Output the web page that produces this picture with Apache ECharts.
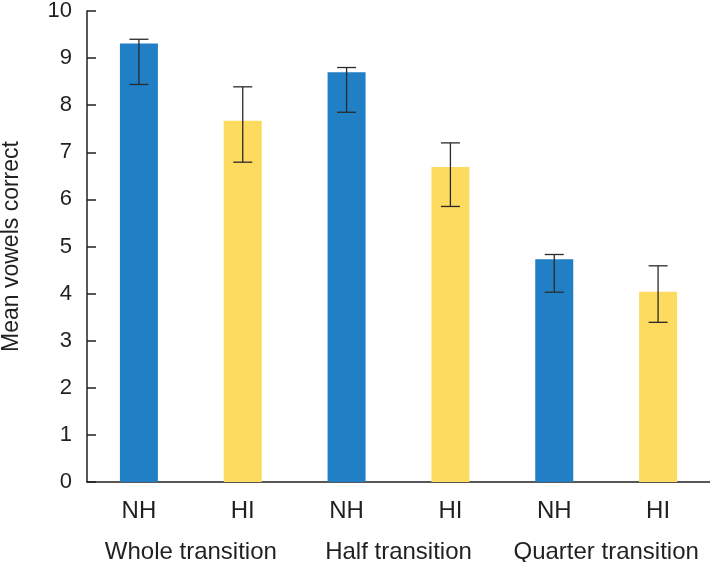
<!DOCTYPE html>
<html>
<head>
<meta charset="utf-8">
<script src="https://cdn.jsdelivr.net/npm/echarts@6/dist/echarts.min.js"></script>
<style>
html,body{margin:0;padding:0;background:#fff;}
#c{width:710px;height:562px;}
</style>
</head>
<body>
<div id="c"></div>
<script>
var groups = ['NH', 'HI', 'NH', 'HI', 'NH', 'HI'];
var conditions = ['Whole transition', 'Half transition', 'Quarter transition'];
var means = [9.31, 7.67, 8.70, 6.69, 4.73, 4.04];
var errUpper = [9.40, 8.39, 8.80, 7.20, 4.83, 4.59];
var errLower = [8.44, 6.79, 7.85, 5.85, 4.03, 3.39];
var yTicks = [0, 1, 2, 3, 4, 5, 6, 7, 8, 9, 10];

var colorNH = '#2180C5';
var colorHI = '#FDDB5E';
var ink = '#231F20';
var font = '"Liberation Sans", Arial, sans-serif';

var barData = means.map(function (v, i) {
  return { value: v, itemStyle: { color: groups[i] === 'NH' ? colorNH : colorHI } };
});
var errData = means.map(function (v, i) { return [i, errLower[i], errUpper[i]]; });

var chart = echarts.init(document.getElementById('c'), null, { renderer: 'canvas' });
chart.setOption({
  animation: false,
  backgroundColor: '#fff',
  grid: { left: 87, right: 0, top: 11, bottom: 80, containLabel: false, outerBoundsMode: 'none' },
  xAxis: [{
    type: 'category',
    data: groups,
    position: 'bottom',
    axisLine: { show: true, lineStyle: { color: ink, width: 1.5 } },
    axisTick: { show: false },
    axisLabel: { color: ink, fontSize: 24, fontFamily: font, margin: 17, interval: 0 }
  }, {
    type: 'category',
    data: conditions,
    position: 'bottom',
    axisLine: { show: false },
    axisTick: { show: false },
    axisLabel: { color: ink, fontSize: 24, fontFamily: font, margin: 58, interval: 0 }
  }],
  yAxis: {
    type: 'value',
    min: yTicks[0],
    max: yTicks[yTicks.length - 1],
    interval: 1,
    name: 'Mean vowels correct',
    nameLocation: 'middle',
    nameGap: 64,
    nameTextStyle: { color: ink, fontSize: 23, fontFamily: font },
    axisLine: { show: true, lineStyle: { color: ink, width: 1.5 } },
    axisTick: { show: true, inside: true, length: 9, lineStyle: { color: ink, width: 1.5 } },
    axisLabel: { color: ink, fontSize: 22, fontFamily: font, margin: 15 },
    splitLine: { show: false }
  },
  series: [{
    type: 'bar',
    data: barData,
    barWidth: 38,
    xAxisIndex: 0
  }, {
    type: 'custom',
    xAxisIndex: 0,
    data: errData,
    encode: { x: 0, y: [1, 2] },
    z: 10,
    renderItem: function (params, api) {
      var x = api.value(0);
      var lo = api.coord([x, api.value(1)]);
      var hi = api.coord([x, api.value(2)]);
      var hw = 9.5;
      var st = { stroke: '#2a2a2a', lineWidth: 1.3 };
      return {
        type: 'group',
        children: [
          { type: 'line', shape: { x1: hi[0], y1: hi[1], x2: lo[0], y2: lo[1] }, style: st },
          { type: 'line', shape: { x1: hi[0] - hw, y1: hi[1], x2: hi[0] + hw, y2: hi[1] }, style: st },
          { type: 'line', shape: { x1: lo[0] - hw, y1: lo[1], x2: lo[0] + hw, y2: lo[1] }, style: st }
        ]
      };
    }
  }]
});
</script>
</body>
</html>
